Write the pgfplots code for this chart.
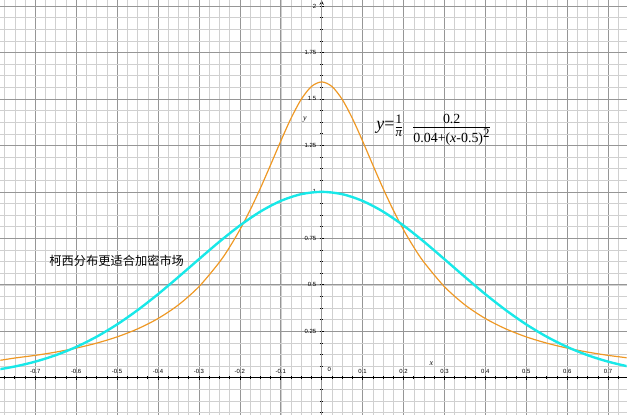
\documentclass[border=0pt]{standalone}
\usepackage{amsmath}
\usepackage{fontspec}
\setmainfont{Liberation Sans}
\newfontfamily\tms{Liberation Serif}
\newfontfamily\cjk{Noto Sans CJK SC}
\usepackage{pgfplots}
\pgfplotsset{compat=1.18}
\definecolor{cauchy}{RGB}{238,152,36}
\definecolor{gauss}{RGB}{24,232,232}
\definecolor{majgrid}{RGB}{150,150,150}
\definecolor{mingrid}{RGB}{208,208,208}
\newcommand{\fm}[2]{\mbox{\tms\fontsize{#1}{#1}\selectfont #2}}

\begin{document}
\begin{tikzpicture}
\begin{axis}[
    scale only axis, width=627bp, height=415bp,
    xmin=-0.785, xmax=0.745, ymin=-0.2, ymax=2.03,
    axis lines=middle,
    x axis line style={-, line width=0.9pt},
    y axis line style={-stealth, line width=0.9pt},
    xtick={-0.7,-0.6,-0.5,-0.4,-0.3,-0.2,-0.1,0.1,0.2,0.3,0.4,0.5,0.6,0.7},
    xticklabels={-0.7,-0.6,-0.5,-0.4,-0.3,-0.2,-0.1,0.1,0.2,0.3,0.4,0.5,0.6,0.7},
    ytick={0.25,0.5,0.75,1,1.25,1.5,1.75,2},
    yticklabels={0.25,0.5,0.75,1,1.25,1.5,1.75,2},
    extra x ticks={0}, extra x tick labels={},
    minor xtick={-0.775,-0.75,...,0.75},
    minor ytick={-0.1875,-0.125,...,2.03},
    grid=both,
    major grid style={majgrid, line width=0.6pt},
    minor grid style={mingrid, line width=0.5pt},
    tick align=center,
    major tick length=4pt, minor tick length=3pt,
    tick style={black, line width=0.6pt},
    ticklabel style={font=\fontsize{6}{6}\selectfont},
    xticklabel style={anchor=south, yshift=3pt},
    yticklabel style={anchor=east, xshift=0pt},
    clip=true,
]
\addplot[cauchy, line width=1.2pt, smooth] coordinates {
(-0.8,0.0884) (-0.75,0.1057) (-0.7,0.1201) (-0.65,0.1376) (-0.6,0.1592)
(-0.55,0.1859) (-0.5,0.2195) (-0.45,0.2625) (-0.4,0.3183) (-0.35,0.3918)
(-0.3,0.4897) (-0.25,0.6211) (-0.225,0.7025) (-0.2,0.7958) (-0.175,0.9014)
(-0.15,1.0186) (-0.125,1.1445) (-0.1,1.2732) (-0.075,1.3953) (-0.05,1.4979)
(-0.025,1.5671) (0,1.5915) (0.025,1.5671) (0.05,1.4979) (0.075,1.3953)
(0.1,1.2732) (0.125,1.1445) (0.15,1.0186) (0.175,0.9014) (0.2,0.7958)
(0.225,0.7025) (0.25,0.6211) (0.3,0.4897) (0.35,0.3918) (0.4,0.3183)
(0.45,0.2625) (0.5,0.2195) (0.55,0.1859) (0.6,0.1592) (0.65,0.1376)
(0.7,0.1201) (0.75,0.1057) (0.8,0.0884)};
\addplot[gauss, line width=2.4pt, smooth] coordinates {
(-0.8,0.0408) (-0.75,0.0601) (-0.7,0.0863) (-0.65,0.1209) (-0.6,0.1653)
(-0.55,0.2204) (-0.5,0.2865) (-0.45,0.3633) (-0.4,0.4493) (-0.35,0.5420)
(-0.3,0.6376) (-0.25,0.7316) (-0.2,0.8187) (-0.15,0.8936) (-0.1,0.9512)
(-0.05,0.9876) (0,1) (0.05,0.9876) (0.1,0.9512) (0.15,0.8936) (0.2,0.8187)
(0.25,0.7316) (0.3,0.6376) (0.35,0.5420) (0.4,0.4493) (0.45,0.3633)
(0.5,0.2865) (0.55,0.2204) (0.6,0.1653) (0.65,0.1209) (0.7,0.0863)
(0.75,0.0601) (0.8,0.0408)};
\node[font=\fontsize{6}{6}\selectfont, anchor=south west] at (axis cs:0.006,0.012) {0};
\node[font=\tms\itshape\fontsize{8}{8}\selectfont] at (axis cs:0.268,0.075) {x};
\node[font=\tms\itshape\fontsize{8}{8}\selectfont] at (axis cs:-0.041,1.39) {y};
\node[font=\cjk\fontsize{12.3}{13}\selectfont, anchor=west] at (axis cs:-0.674,0.63) {柯西分布更适合加密市场};
\node[anchor=west, inner sep=0pt] at (axis cs:0.133,1.335) {\tms
  {\fontsize{18}{18}\selectfont\textit{y}=}$\displaystyle\frac{\fm{13}{1}}{\fm{13}{\itshape π}}\hspace{9pt}\frac{\fm{14}{0.2}}{\fm{14}{0.04+(\textit{x}-0.5)$^{\fm{13}{2}}$}}$};
\end{axis}
\end{tikzpicture}
\end{document}
